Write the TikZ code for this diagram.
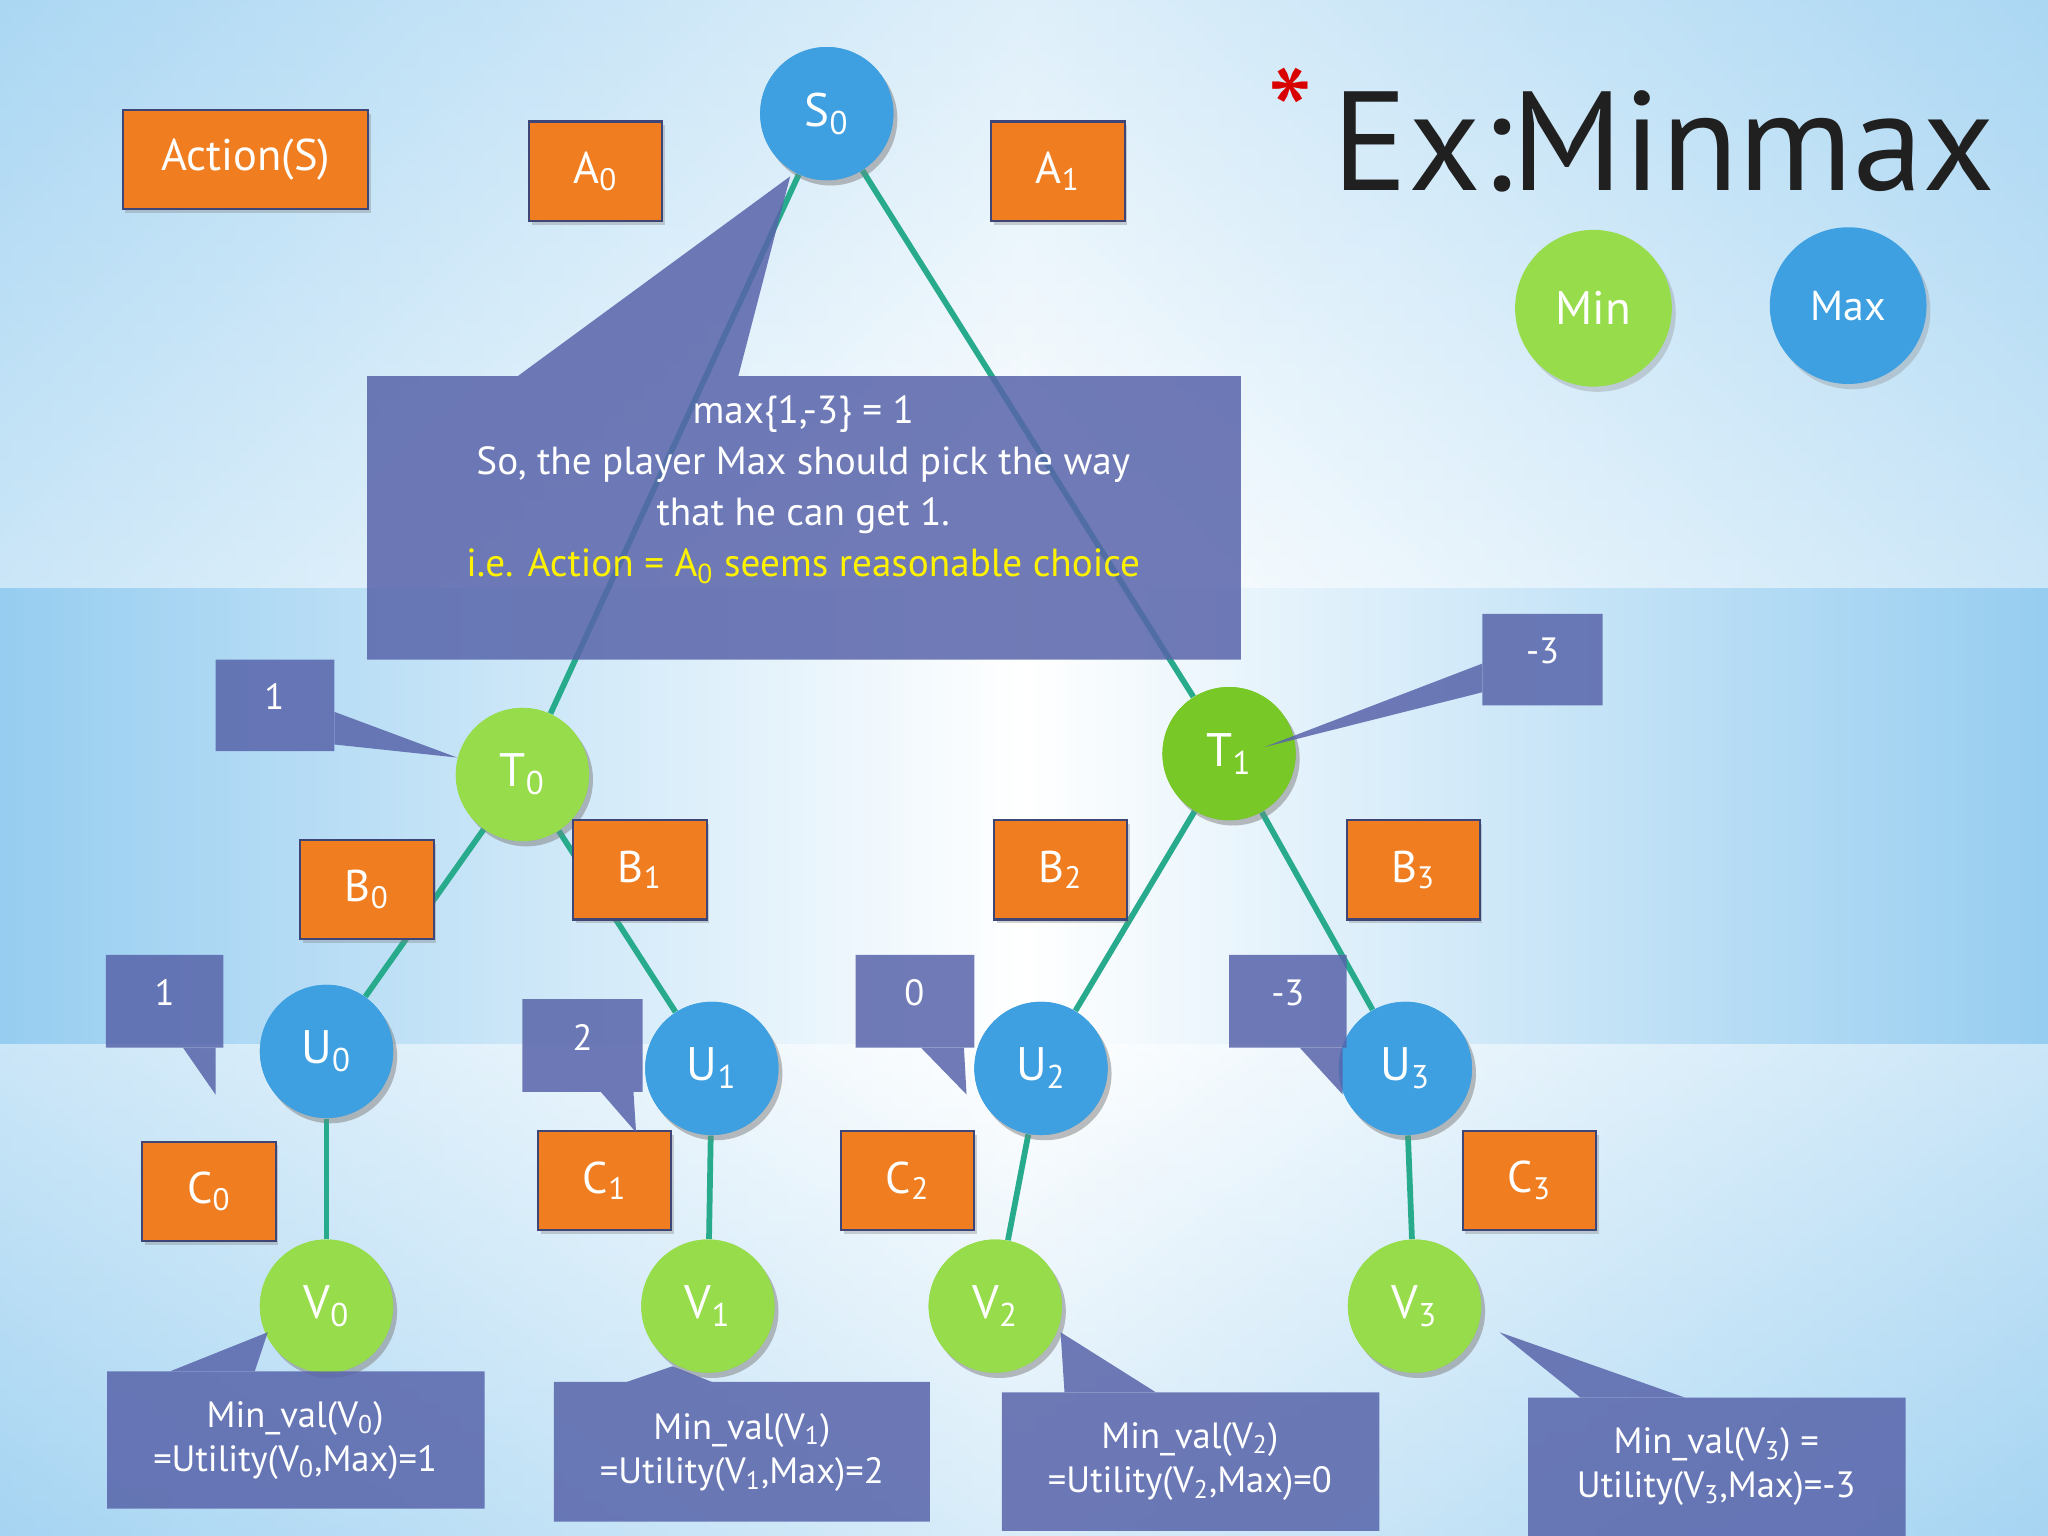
\documentclass[tikz,border=0pt]{standalone}
\usepackage{fontspec}
\setmainfont{PT Sans}
\usetikzlibrary{shadows}
\definecolor{orng}{RGB}{240,125,32}
\definecolor{bluec}{RGB}{62,160,225}
\definecolor{greenc}{RGB}{150,220,75}
\definecolor{greend}{RGB}{120,200,40}
\definecolor{slate}{RGB}{88,100,170}
\definecolor{teal}{RGB}{40,170,140}
\definecolor{bgblue}{RGB}{150,205,240}
\begin{document}
\begin{tikzpicture}[x=0.5pt,y=-0.5pt,
  obox/.style={draw=slate!70!black,line width=0.8pt,fill=orng,text=white,font=\fontsize{17}{20}\selectfont,minimum width=51pt,minimum height=38pt,inner sep=0pt,drop shadow={opacity=0.35,shadow xshift=1pt,shadow yshift=-1.5pt}},
  circ/.style={circle,minimum size=51pt,inner sep=0pt,text=white,font=\fontsize{18}{20}\selectfont,drop shadow={opacity=0.3,shadow xshift=1.5pt,shadow yshift=-2pt}},
  bc/.style={circ,fill=bluec},
  gc/.style={circ,fill=greenc},
  edge/.style={teal,line width=2.2pt},
  call/.style={fill=slate},
  ctext/.style={text=white,font=\fontsize{14}{17}\selectfont,align=center}]
\useasboundingbox (0,0) rectangle (1568,1176);
\shade[left color=bgblue,right color=bgblue,middle color=white] (0,0) rectangle (1568,1176);
\shade[top color=bgblue!60,bottom color=white,opacity=0.5] (0,0) rectangle (1568,450);
\shade[top color=white,bottom color=bgblue!70,opacity=0.5] (0,800) rectangle (1568,1176);
% title
\node[anchor=west,text=gray!25!black,font=\fontsize{54}{60}\selectfont,inner sep=0pt] (title) at (1020,108) {Ex:Minmax};
\node[text=red!85!black,font=\fontsize{50}{50}\selectfont,inner sep=0pt] (ast) at (988,88) {*};
% circles
\node[bc] (S0) at (633,87) {S\textsubscript{0}};
\node[gc] (T0) at (400,593) {T\textsubscript{0}};
\node[circ,fill=greend] (T1) at (941,577) {T\textsubscript{1}};
\node[bc] (U0) at (250,805) {U\textsubscript{0}};
\node[bc] (U1) at (545,818) {U\textsubscript{1}};
\node[bc] (U2) at (797,818) {U\textsubscript{2}};
\node[bc] (U3) at (1076,818) {U\textsubscript{3}};
\node[gc] (V0) at (250,1000) {V\textsubscript{0}};
\node[gc] (V1) at (542,1000) {V\textsubscript{1}};
\node[gc] (V2) at (762,1000) {V\textsubscript{2}};
\node[gc] (V3) at (1083,1000) {V\textsubscript{3}};
\node[gc,minimum size=60pt] (Min) at (1220,236) {Min};
\node[bc,minimum size=60pt,font=\fontsize{16}{18}\selectfont] (Max) at (1415,234) {Max};
\begin{scope}[on background layer/.style={}]
\end{scope}
% edges
\draw[edge] (S0) -- (T0);
\draw[edge] (S0) -- (T1);
\draw[edge] (T0) -- (U0);
\draw[edge] (T0) -- (U1);
\draw[edge] (T1) -- (U2);
\draw[edge] (T1) -- (U3);
\foreach \i in {0,1,2,3} \draw[edge] (U\i) -- (V\i);
% redraw circles over edges
\node[bc] at (S0) {S\textsubscript{0}};
\node[gc] at (T0) {T\textsubscript{0}};
\node[circ,fill=greend] at (T1) {T\textsubscript{1}};
\foreach \i in {0,1,2,3} {\node[bc] at (U\i) {U\textsubscript{\i}};\node[gc] at (V\i) {V\textsubscript{\i}};}
% orange boxes
\node[obox,minimum width=94pt] (act) at (188,122) {Action(S)};
\node[obox] (A0) at (456,131) {A\textsubscript{0}};
\node[obox] (A1) at (810,131) {A\textsubscript{1}};
\node[obox] (B0) at (281,681) {B\textsubscript{0}};
\node[obox] (B1) at (490,666) {B\textsubscript{1}};
\node[obox] (B2) at (812,666) {B\textsubscript{2}};
\node[obox] (B3) at (1082,666) {B\textsubscript{3}};
\node[obox] (C0) at (160,912) {C\textsubscript{0}};
\node[obox] (C1) at (463,904) {C\textsubscript{1}};
\node[obox] (C2) at (695,904) {C\textsubscript{2}};
\node[obox] (C3) at (1171,904) {C\textsubscript{3}};
% callouts
\begin{scope}[transparency group,opacity=0.85]
\fill[call] (281,288) rectangle (950,505);
\fill[call] (395,289) -- (605,135) -- (565,289) -- cycle;
\fill[call] (165,505) rectangle (256,575);
\fill[call] (256,545) -- (350,580) -- (256,570) -- cycle;
\fill[call] (1135,470) rectangle (1227,540);
\fill[call] (1135,508) -- (968,572) -- (1135,530) -- cycle;
\fill[call] (81,731) rectangle (171,802);
\fill[call] (140,802) -- (165,838) -- (165,802) -- cycle;
\fill[call] (400,765) rectangle (492,836);
\fill[call] (460,836) -- (487,867) -- (485,836) -- cycle;
\fill[call] (655,731) rectangle (746,802);
\fill[call] (705,802) -- (740,838) -- (738,802) -- cycle;
\fill[call] (941,731) rectangle (1031,802);
\fill[call] (995,802) -- (1028,838) -- (1028,802) -- cycle;
\fill[call] (82,1050) rectangle (371,1155);
\fill[call] (130,1050) -- (205,1020) -- (195,1050) -- cycle;
\fill[call] (424,1058) rectangle (712,1165);
\fill[call] (480,1058) -- (515,1046) -- (545,1058) -- cycle;
\fill[call] (767,1066) rectangle (1056,1172);
\fill[call] (815,1066) -- (812,1020) -- (885,1066) -- cycle;
\fill[call] (1170,1070) rectangle (1459,1176);
\fill[call] (1210,1070) -- (1148,1020) -- (1290,1070) -- cycle;
\end{scope}
\node[ctext,font=\fontsize{15}{19.5}\selectfont] (big) at (615,375) {max\{1,-3\} = 1\\So, the player Max should pick the way\\that he can get 1.\\\textcolor{yellow}{i.e. Action = A\textsubscript{0} seems reasonable choice}};
\node[ctext] (n1) at (210,533) {1};
\node[ctext] (n2) at (1181,498) {-3};
\node[ctext] (n3) at (126,760) {1};
\node[ctext] (n4) at (446,794) {2};
\node[ctext] (n5) at (700,760) {0};
\node[ctext] (n6) at (986,760) {-3};
\node[ctext] (m0) at (226,1103) {Min\_val(V\textsubscript{0})\\=Utility(V\textsubscript{0},Max)=1};
\node[ctext] (m1) at (568,1112) {Min\_val(V\textsubscript{1})\\=Utility(V\textsubscript{1},Max)=2};
\node[ctext] (m2) at (911,1119) {Min\_val(V\textsubscript{2})\\=Utility(V\textsubscript{2},Max)=0};
\node[ctext] (m3) at (1314,1123) {Min\_val(V\textsubscript{3}) =\\Utility(V\textsubscript{3},Max)=-3};
\end{tikzpicture}
\end{document}
